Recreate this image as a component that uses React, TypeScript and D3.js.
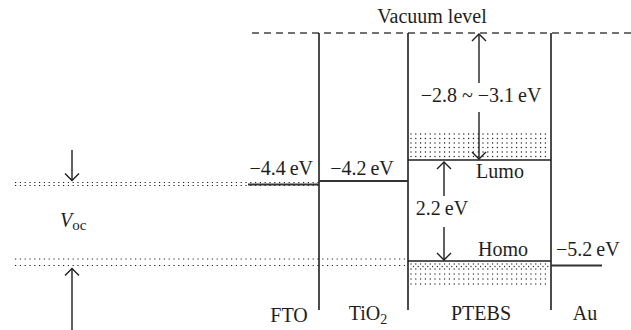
import React from "react";
import * as d3 from "d3";

// ---- data ----
const layers = ["FTO", "TiO2", "PTEBS", "Au"];
const workFunctions = [-4.4, -4.2, -5.2]; // FTO, TiO2, Au
const lumoRange = [-2.8, -3.1];
const bandGap = 2.2;
const homoRange = lumoRange.map((v) => +(v - bandGap).toFixed(1)); // [-5.0, -5.3]
const vacuum = 0;

const W = 631;
const H = 330;
const FONT = "'Liberation Serif', 'Times New Roman', serif";
const INK = "#1e1e1e";

// schematic (not-to-scale) energy axis
const y = d3
  .scaleLinear()
  .domain([vacuum, lumoRange[0], lumoRange[1], workFunctions[1], workFunctions[0], homoRange[0], workFunctions[2], homoRange[1]])
  .range([33, 133, 160, 181, 184.5, 261, 265.5, 288]);

// layer boundaries
const x = d3.scaleOrdinal<string, number>().domain(["ftoL", "fto|tio2", "tio2|ptebs", "ptebs|au", "auR"]).range([248, 319, 408, 551, 602]);

const fmt = (v: number) => `\u2212${Math.abs(v).toFixed(1)}\u2009eV`;

function Arrow({ x0, y0, y1 }: { x0: number; y0: number; y1: number }) {
  const dir = y1 > y0 ? 1 : -1;
  return (
    <g stroke={INK} strokeWidth={1.4} fill="none">
      <line x1={x0} y1={y0} x2={x0} y2={y1} />
      <path d={`M${x0 - 7},${y1 - dir * 7} L${x0},${y1} L${x0 + 7},${y1 - dir * 7}`} />
    </g>
  );
}

export default function App() {
  const xF = x("ftoL");
  const x1 = x("fto|tio2");
  const x2 = x("tio2|ptebs");
  const x3 = x("ptebs|au");
  const xR = x("auR");
  const yVac = y(vacuum);
  const yLumo = y(lumoRange[1]);
  const yLumoTop = y(lumoRange[0]);
  const yHomo = y(homoRange[0]);
  const yHomoBot = y(homoRange[1]);
  const yFto = y(workFunctions[0]);
  const yTio = y(workFunctions[1]);
  const yAu = y(workFunctions[2]);
  const yBottom = 310;

  // stipple grids
  const upperDots: [number, number][] = [];
  d3.range(yLumoTop + 1, yLumo - 2, 4.5).forEach((yy) =>
    d3.range(x2 + 3, x3 - 1, 4.8).forEach((xx) => upperDots.push([xx, yy]))
  );
  const lowerDots: [number, number][] = [];
  d3.range(yHomo + 3, yHomoBot + 1, 5).forEach((yy) =>
    d3.range(x2 + 3, x3 - 1, 4.8).forEach((xx) => lowerDots.push([xx, yy]))
  );
  d3.range(x2 + 5.4, x3 - 1, 4.8).forEach((xx) => lowerDots.push([xx, yHomo + 5.5]));

  const dotLine = (xa: number, xb: number, yy: number, k: string) => (
    <line key={k} x1={xa} x2={xb} y1={yy} y2={yy} stroke="#222" strokeWidth={1.2} strokeDasharray="1.2 3.6" />
  );

  const textStyle: React.CSSProperties = { fontFamily: FONT, fontSize: 20, fill: INK };

  return (
    <svg width={W} height={H} style={{ position: "absolute", left: 0, top: 0 }}>
      <rect width={W} height={H} fill="#fff" />
      {/* vacuum level */}
      <line x1={252} x2={W} y1={yVac} y2={yVac} stroke="#444" strokeWidth={1.4} strokeDasharray="7 5" />
      <text x={432} y={23} textAnchor="middle" style={textStyle}>Vacuum level</text>

      {/* Voc dotted lines */}
      {dotLine(15, x1, yFto - 2, "u1")}
      {dotLine(15, x1, yFto + 1, "u2")}
      {dotLine(15, x2, yHomo - 2, "l1")}
      {dotLine(15, x2, yAu, "l2")}

      {/* stipple bands */}
      {upperDots.map(([a, b], i) => (
        <circle key={"ud" + i} cx={a} cy={b} r={0.7} fill="#222" />
      ))}
      {lowerDots.map(([a, b], i) => (
        <circle key={"ld" + i} cx={a} cy={b} r={0.65} fill="#222" />
      ))}

      {/* vertical boundaries */}
      {[x1, x2, x3].map((xx, i) => (
        <line key={"v" + i} x1={xx} x2={xx} y1={yVac} y2={yBottom} stroke={INK} strokeWidth={1.6} />
      ))}

      {/* energy levels */}
      <line x1={xF} x2={x1} y1={yFto} y2={yFto} stroke="#333" strokeWidth={1.8} />
      <line x1={x1} x2={x2} y1={yTio} y2={yTio} stroke="#333" strokeWidth={1.8} />
      <line x1={x2} x2={x3} y1={yLumo} y2={yLumo} stroke={INK} strokeWidth={1.5} />
      <line x1={x2} x2={x3} y1={yHomo} y2={yHomo} stroke={INK} strokeWidth={1.5} />
      <line x1={x3} x2={xR} y1={yAu} y2={yAu} stroke="#333" strokeWidth={1.8} />

      {/* level labels */}
      <text x={313} y={175} textAnchor="end" style={textStyle}>{fmt(workFunctions[0])}</text>
      <text x={362} y={175} textAnchor="middle" style={textStyle}>{fmt(workFunctions[1])}</text>
      <text x={556} y={256} textAnchor="start" style={textStyle}>{fmt(workFunctions[2])}</text>
      <text x={481} y={101.5} textAnchor="middle" style={textStyle}>
        {`\u2212${Math.abs(lumoRange[0]).toFixed(1)} ~ \u2212${Math.abs(lumoRange[1]).toFixed(1)}\u2009eV`}
      </text>
      <text x={500} y={178} textAnchor="middle" style={textStyle}>Lumo</text>
      <text x={503} y={256} textAnchor="middle" style={textStyle}>Homo</text>
      <text x={442} y={215} textAnchor="middle" style={textStyle}>{`${bandGap.toFixed(1)}\u2009eV`}</text>

      {/* arrows */}
      <Arrow x0={479} y0={83} y1={yVac + 1} />
      <Arrow x0={479} y0={112} y1={yLumo - 1} />
      <Arrow x0={444} y0={196} y1={yLumo + 2} />
      <Arrow x0={444} y0={227} y1={yHomo - 1} />
      <Arrow x0={72} y0={150} y1={yFto - 4} />
      <Arrow x0={72} y0={330} y1={yAu + 3} />

      {/* Voc */}
      <text x={60} y={227} style={textStyle}>
        <tspan fontStyle="italic">V</tspan>
        <tspan fontSize={15} dy={3}>oc</tspan>
      </text>

      {/* layer names */}
      <text x={289} y={322} textAnchor="middle" style={textStyle}>{layers[0]}</text>
      <text x={368} y={320} textAnchor="middle" style={textStyle}>
        TiO<tspan fontSize={14} dy={4}>2</tspan>
      </text>
      <text x={481} y={320} textAnchor="middle" style={textStyle}>{layers[2]}</text>
      <text x={585} y={320} textAnchor="middle" style={textStyle}>{layers[3]}</text>
    </svg>
  );
}
